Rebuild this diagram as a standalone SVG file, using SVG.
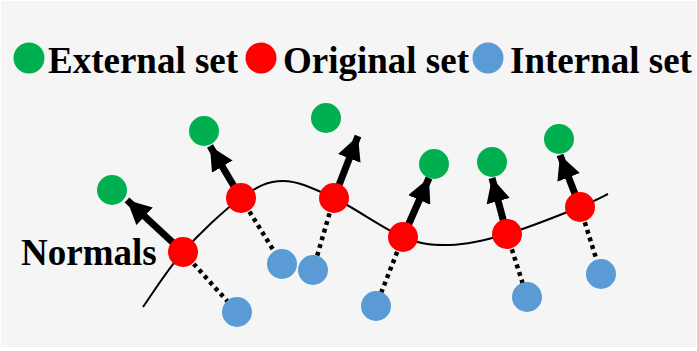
<svg xmlns="http://www.w3.org/2000/svg" width="697" height="351" viewBox="0 0 697 351">
<defs>
<style>
.lbl{font-family:"Liberation Serif","Times New Roman",serif;font-weight:bold;font-size:37px;fill:#000}
.ext{fill:#00b050}
.org{fill:#ff0000}
.int{fill:#5b9bd5}
.normal{stroke:#000;stroke-width:7;fill:none;marker-end:url(#ah)}
.dot{stroke:#000;stroke-width:4.5;stroke-dasharray:4 4;fill:none}
.curve{stroke:#000;stroke-width:2;fill:none}
</style>
<marker id="ah" markerUnits="userSpaceOnUse" markerWidth="24" markerHeight="24" viewBox="0 0 22 22" refX="22" refY="11" orient="auto">
<path d="M0,0 L22,11 L0,22 Z" fill="#000"/>
</marker>
</defs>
<rect x="1" y="1" width="695" height="346" fill="#f5f5f5"/>
<g id="legend">
<circle class="ext" cx="29" cy="58" r="15.5"/>
<text class="lbl" x="48" y="73">External set</text>
<circle class="org" cx="261" cy="58" r="15.5"/>
<text class="lbl" x="283" y="73">Original set</text>
<circle class="int" cx="488" cy="58" r="15.5"/>
<text class="lbl" x="510" y="73">Internal set</text>
</g>
<text id="normals-label" class="lbl" x="21" y="265">Normals</text>
<g id="connectors">
<path id="surface" class="curve" d="M143,307 C149.7,297.8 166.7,270.2 183,252 C199.3,233.8 224.3,209.8 241,198 C257.7,186.2 267.5,181 283,181 C298.5,181 314,188.7 334,198 C354,207.3 383.7,229.2 403,237 C422.3,244.8 432.7,245.5 450,245 C467.3,244.5 485.3,240.3 507,234 C528.7,227.7 563.2,213.7 580,207 C596.8,200.3 603.3,196.2 608,194"/>
<line class="dot" x1="183" y1="252" x2="237" y2="312"/>
<line class="dot" x1="241" y1="198" x2="282" y2="264"/>
<line class="dot" x1="334" y1="198" x2="313" y2="270"/>
<line class="dot" x1="403" y1="237" x2="376" y2="306"/>
<line class="dot" x1="507" y1="234" x2="527" y2="297"/>
<line class="dot" x1="580" y1="207" x2="601" y2="274"/>
<line class="normal" x1="183" y1="252" x2="127" y2="200"/>
<line class="normal" x1="241" y1="198" x2="210" y2="146"/>
<line class="normal" x1="334" y1="198" x2="358" y2="136"/>
<line class="normal" x1="403" y1="237" x2="429" y2="178"/>
<line class="normal" x1="507" y1="234" x2="492" y2="178"/>
<line class="normal" x1="580" y1="207" x2="560" y2="155"/>
</g>
<g id="external">
<circle class="ext" cx="112" cy="190" r="15"/>
<circle class="ext" cx="204" cy="131" r="15"/>
<circle class="ext" cx="326" cy="118" r="15"/>
<circle class="ext" cx="434" cy="164" r="15"/>
<circle class="ext" cx="492" cy="162" r="15"/>
<circle class="ext" cx="559" cy="139" r="15"/>
</g>
<g id="internal">
<circle class="int" cx="237" cy="312" r="15"/>
<circle class="int" cx="282" cy="264" r="15"/>
<circle class="int" cx="313" cy="270" r="15"/>
<circle class="int" cx="376" cy="306" r="15"/>
<circle class="int" cx="527" cy="297" r="15"/>
<circle class="int" cx="601" cy="274" r="15"/>
</g>
<g id="original">
<circle class="org" cx="183" cy="252" r="15"/>
<circle class="org" cx="241" cy="198" r="15"/>
<circle class="org" cx="334" cy="198" r="15"/>
<circle class="org" cx="403" cy="237" r="15"/>
<circle class="org" cx="507" cy="234" r="15"/>
<circle class="org" cx="580" cy="207" r="15"/>
</g>
</svg>
